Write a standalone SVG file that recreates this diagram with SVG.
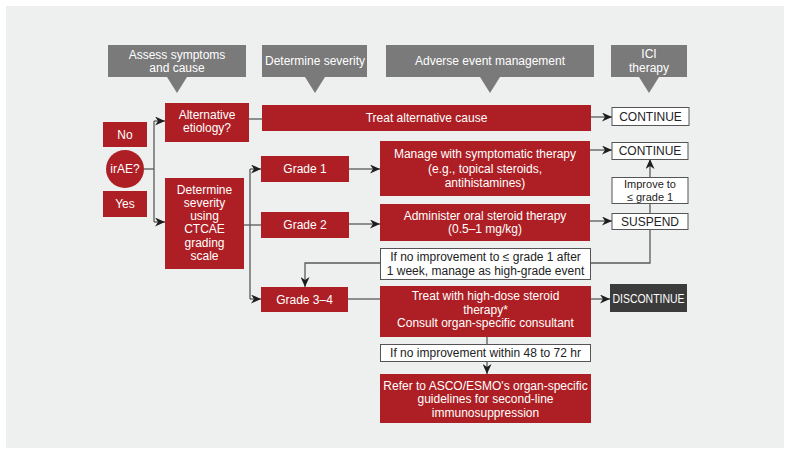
<svg xmlns="http://www.w3.org/2000/svg" width="791" height="455" viewBox="0 0 791 455">
<defs>
<style>
text{font-family:"Liberation Sans",Arial,sans-serif;font-size:12px;text-anchor:middle}
.hdr{fill:#7a7a7a}
.hdr-t{fill:#ffffff}
.red{fill:#ad1f24}
.red-t{fill:#ffffff}
.wb{fill:#ffffff;stroke:#555555;stroke-width:1}
.wb-t{fill:#222222}
.sm{font-size:11px}
.dk{fill:#3b3b3b}
.ln{fill:none;stroke:#5a5a5a;stroke-width:1.3}
.ar{marker-end:url(#arr)}
</style>
<marker id="arr" markerUnits="userSpaceOnUse" markerWidth="10" markerHeight="9" refX="10" refY="4.5" orient="auto">
<path d="M0,0 L10,4.5 L0,9 L3,4.5 Z" fill="#1e1e1e"/>
</marker>
</defs>
<rect x="6" y="6" width="778" height="442" fill="#eeefef"/>

<g id="headers">
<g id="h-assess"><path class="hdr" d="M108,45 H246 V77 H187 L177,93 L167,77 H108 Z"/><text class="hdr-t" x="177" y="59">Assess symptoms</text><text class="hdr-t" x="177" y="72">and cause</text></g>
<g id="h-severity"><path class="hdr" d="M262,45 H367 V77 H325 L315,93 L305,77 H262 Z"/><text class="hdr-t" x="315" y="65">Determine severity</text></g>
<g id="h-ae"><path class="hdr" d="M386,45 H594 V77 H500 L490,93 L480,77 H386 Z"/><text class="hdr-t" x="490" y="65">Adverse event management</text></g>
<g id="h-ici"><path class="hdr" d="M611,45 H687 V77 H659 L649,93 L639,77 H611 Z"/><text class="hdr-t" x="649" y="58">ICI</text><text class="hdr-t" x="649" y="72">therapy</text></g>
</g>

<g id="connectors">
<path class="ln" d="M144,169 H154"/>
<path class="ln" d="M154,121 V222"/>
<path class="ln ar" d="M154,121 H165"/>
<path class="ln ar" d="M154,222 H165"/>
<path class="ln" d="M249,119 H262"/>
<path class="ln ar" d="M591,117 H612"/>
<path class="ln" d="M244,225 H261"/>
<path class="ln" d="M250,169 V299"/>
<path class="ln ar" d="M250,169 H261"/>
<path class="ln ar" d="M250,299 H261"/>
<path class="ln ar" d="M349,169 H380"/>
<path class="ln ar" d="M349,224 H380"/>
<path class="ln ar" d="M590,150 H612"/>
<path class="ln ar" d="M590,221 H612"/>
<path class="ln" d="M650,213 V203"/>
<path class="ln ar" d="M650,177 V159"/>
<path class="ln" d="M650,229 V263 H591"/>
<path class="ln ar" d="M380,263 H305 V287"/>
<path class="ln" d="M348,299 H380"/>
<path class="ln ar" d="M591,299 H610"/>
<path class="ln" d="M487,337 V344"/>
<path class="ln ar" d="M487,361 V374"/>
</g>

<g id="no"><rect class="red" x="103" y="122" width="44" height="25"/><text class="red-t" x="125" y="139">No</text></g>
<g id="irae"><circle class="red" cx="125" cy="169" r="19"/><text class="red-t" x="125" y="173">irAE?</text></g>
<g id="yes"><rect class="red" x="103" y="191" width="44" height="26"/><text class="red-t" x="125" y="208">Yes</text></g>

<g id="alt-etiology"><rect class="red" x="165" y="103" width="84" height="39"/><text class="red-t" x="207" y="119">Alternative</text><text class="red-t" x="207" y="132">etiology?</text></g>
<g id="determine"><rect class="red" x="165" y="178" width="79" height="91"/>
<text class="red-t" x="204.5" y="194">Determine</text><text class="red-t" x="204.5" y="207">severity</text><text class="red-t" x="204.5" y="220">using</text><text class="red-t" x="204.5" y="233">CTCAE</text><text class="red-t" x="204.5" y="247">grading</text><text class="red-t" x="204.5" y="260">scale</text></g>

<g id="treat-alt"><rect class="red" x="262" y="105" width="329" height="26"/><text class="red-t" x="426.5" y="122">Treat alternative cause</text></g>
<g id="continue-1"><rect class="wb" x="612" y="107.5" width="77" height="18"/><text class="wb-t" x="650.5" y="121">CONTINUE</text></g>

<g id="grade1"><rect class="red" x="261" y="156" width="88" height="26"/><text class="red-t" x="305" y="173">Grade 1</text></g>
<g id="grade2"><rect class="red" x="261" y="212" width="88" height="26"/><text class="red-t" x="305" y="229">Grade 2</text></g>
<g id="grade34"><rect class="red" x="261" y="287" width="87" height="25"/><text class="red-t" x="304.5" y="304">Grade 3–4</text></g>

<g id="manage"><rect class="red" x="380" y="141" width="210" height="55"/>
<text class="red-t" x="485" y="158">Manage with symptomatic therapy</text><text class="red-t" x="485" y="173">(e.g., topical steroids,</text><text class="red-t" x="485" y="187">antihistamines)</text></g>
<g id="continue-2"><rect class="wb" x="612" y="142.5" width="76" height="17"/><text class="wb-t" x="650" y="155">CONTINUE</text></g>
<g id="improve"><rect class="wb" x="612" y="177.5" width="76" height="26"/><text class="wb-t sm" x="650" y="188">Improve to</text><text class="wb-t sm" x="650" y="200.5">≤ grade 1</text></g>

<g id="administer"><rect class="red" x="380" y="204" width="210" height="37"/>
<text class="red-t" x="485" y="220">Administer oral steroid therapy</text><text class="red-t" x="485" y="233">(0.5–1 mg/kg)</text></g>
<g id="suspend"><rect class="wb" x="612" y="213.5" width="76" height="16"/><text class="wb-t" x="650" y="226">SUSPEND</text></g>

<g id="no-improve-1"><rect class="wb" x="380.5" y="248.5" width="210" height="31"/>
<text class="wb-t" x="485.5" y="261">If no improvement to ≤ grade 1 after</text><text class="wb-t" x="485.5" y="275">1 week, manage as high-grade event</text></g>

<g id="high-dose"><rect class="red" x="380" y="286" width="211" height="51"/>
<text class="red-t" x="485.5" y="300">Treat with high-dose steroid</text><text class="red-t" x="485.5" y="313.5">therapy*</text><text class="red-t" x="485.5" y="327">Consult organ-specific consultant</text></g>
<g id="discontinue"><rect class="dk" x="610" y="284" width="77" height="28"/><text class="red-t" x="648.5" y="302.5" textLength="72" lengthAdjust="spacingAndGlyphs">DISCONTINUE</text></g>

<g id="no-improve-2"><rect class="wb" x="380.5" y="344.5" width="210" height="17"/><text class="wb-t" x="485.5" y="357">If no improvement within 48 to 72 hr</text></g>
<g id="refer"><rect class="red" x="380" y="374" width="211" height="49"/>
<text class="red-t" x="485.5" y="390">Refer to ASCO/ESMO's organ-specific</text><text class="red-t" x="485.5" y="403">guidelines for second-line</text><text class="red-t" x="485.5" y="417">immunosuppression</text></g>
</svg>
